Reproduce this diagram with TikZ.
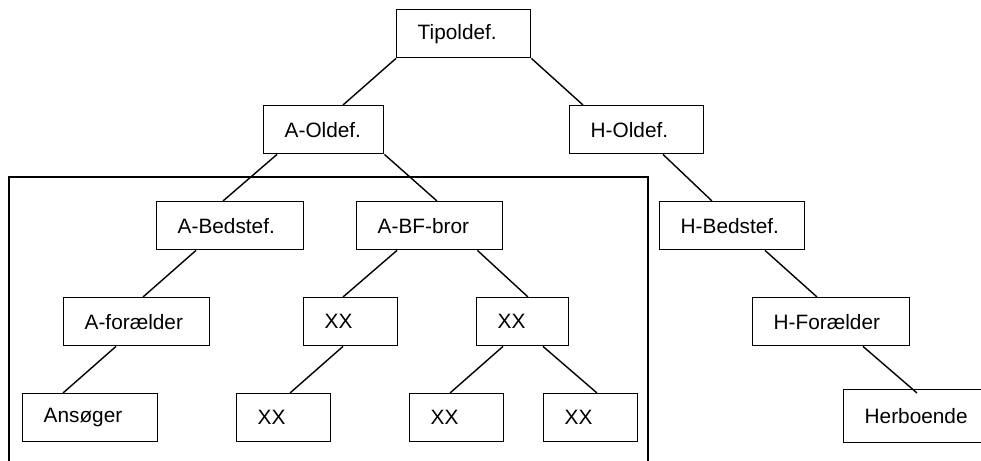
\documentclass[tikz,border=0pt]{standalone}
\usepackage{fontspec}
\setmainfont{Liberation Sans}
\usetikzlibrary{calc}

\begin{document}
\begin{tikzpicture}
			[x=0.5pt,y=-0.5pt,line width=0.7pt,
			every node/.style={draw,rectangle,anchor=north west,minimum height=24pt,inner xsep=10.5pt,align=left,font=\fontsize{10.4}{12}\selectfont},
			box/.style={text width=#1},
			edge/.style={-}]
			\useasboundingbox (0,0) rectangle (981,461);
			% generations
			\node[box=46pt] (tip) at (396,9) {Tipoldef.};
			\node[box=39pt] (aold) at (263,105) {A-Oldef.};
			\node[box=46pt] (hold) at (569,105) {H-Oldef.};
			\node[box=52.5pt] (abed) at (156,201) {A-Bedstef.};
			\node[box=52pt] (abf) at (356,201) {A-BF-bror};
			\node[box=51.5pt] (hbed) at (659,201) {H-Bedstef.};
			\node[box=52pt] (afor) at (63,297) {A-forælder};
			\node[box=26pt] (xa) at (303,297) {XX};
			\node[box=25pt] (xb) at (476,297) {XX};
			\node[box=57.5pt] (hfor) at (752,297) {H-Forælder};
			\node[box=46.5pt] (ans) at (22,393) {Ansøger};
			\node[box=26pt] (xc) at (236,393) {XX};
			\node[box=26pt] (xd) at (409,393) {XX};
			\node[box=26pt] (xe) at (543,393) {XX};
			\node[box=52.5pt,minimum height=26.5pt] (herb) at (843,389) {Herboende};
			
			% frame round the A side
			\draw (9,470) -- (9,177) -- (648,177) -- (648,470);
			
			\draw[edge] (tip.south west) -- ($(aold.north west)+(80,0)$);
			\draw[edge] (tip.south east) -- ($(hold.north west)+(14,0)$);
			\draw[edge] ($(aold.south west)+(14,0)$) -- ($(abed.north west)+(67,0)$);
			\draw[edge] (aold.south east) -- ($(abf.north west)+(81,0)$);
			\draw[edge] ($(hold.south west)+(94,0)$) -- ($(hbed.north west)+(53,0)$);
			\draw[edge] ($(abed.south west)+(40,0)$) -- ($(afor.north west)+(80,0)$);
			\draw[edge] ($(abf.south west)+(41,0)$) -- ($(xa.north west)+(40,0)$);
			\draw[edge] ($(abf.south east)+(-26,0)$) -- ($(xb.north west)+(52,0)$);
			\draw[edge] ($(hbed.south west)+(106,0)$) -- ($(hfor.north west)+(65,0)$);
			\draw[edge] ($(afor.south west)+(53,0)$) -- ($(ans.north west)+(41,0)$);
			\draw[edge] ($(xa.south west)+(40,0)$) -- ($(xc.north west)+(54,0)$);
			\draw[edge] ($(xb.south west)+(27,0)$) -- ($(xd.north west)+(41,0)$);
			\draw[edge] ($(xb.south west)+(67,0)$) -- ($(xe.north west)+(54,0)$);
			\draw[edge] ($(hfor.south west)+(111,0)$) -- ($(herb.north west)+(74,4)$);
			\end{tikzpicture}
\end{document}
